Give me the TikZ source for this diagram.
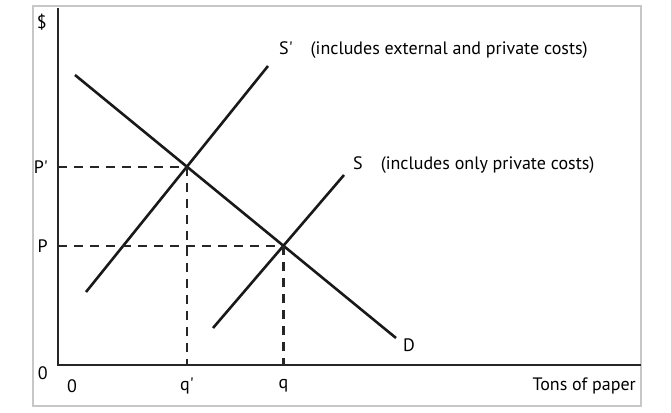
\documentclass[tikz,border=0pt]{standalone}
\usepackage{fontspec}
\setmainfont{PT Sans}
\usetikzlibrary{calc}
\tikzset{
  frame/.style={draw=black!22, line width=1.5pt},
  axis line/.style={draw=black!85, line width=1.3pt},
  curve/.style={draw=black!90, line width=2.6pt},
  guide/.style={draw=black!85, line width=2.3pt, dash pattern=on 9pt off 7pt},
  tick label/.style={font=\fontsize{18}{21}\selectfont, inner sep=1pt},
  curve label/.style={font=\fontsize{18}{21}\selectfont, anchor=west,
    inner sep=1pt}
}
\newcommand{\prm}{\textquotesingle}

\begin{document}
\begin{tikzpicture}[x=1pt, y=-1pt]
  \useasboundingbox (0,0) rectangle (671,412);
  \draw[frame] (33,6) rectangle (641,406);
  % axes
  \coordinate (origin) at (58,365);
  \coordinate (ytop) at (58,8);
  \coordinate (xend) at (641,365);
  \draw[axis line] (ytop) -- (origin) -- (xend);
  % demand and supply curves
  \coordinate (D1) at (75,75);
  \coordinate (D2) at (396,338);
  \coordinate (Sp1) at (86,292);
  \coordinate (Sp2) at (268,66);
  \coordinate (S1) at (213,328);
  \coordinate (S2) at (344,175);
  \draw[curve] (D1) -- (D2);
  \draw[curve] (Sp1) -- (Sp2);
  \draw[curve] (S1) -- (S2);
  \coordinate (Ep) at (intersection of D1--D2 and Sp1--Sp2);
  \coordinate (E) at (intersection of D1--D2 and S1--S2);
  % guides
  \draw[guide] (Ep -| origin) -- (Ep);
  \draw[guide] (Ep) -- (Ep |- origin);
  \draw[guide] (E -| origin) -- (E);
  \draw[guide] (E) -- (E |- origin);
  % labels
  \node[tick label, anchor=east] (dollar) at (48,22) {\$};
  \node[tick label, anchor=east] (Pp) at ([xshift=-9pt]Ep -| origin) {P\prm};
  \node[tick label, anchor=east] (P) at ([xshift=-9pt]E -| origin) {P};
  \node[tick label, anchor=east] (zeroy) at ([xshift=-9pt,yshift=-8pt]origin) {0};
  \node[tick label] (zerox) at (72,386) {0};
  \node[tick label] (qp) at ([yshift=-21pt]Ep |- origin) {q\prm};
  \node[tick label] (q) at ([yshift=-21pt]E |- origin) {q};
  \node[tick label, anchor=east] (xlab) at (637,386) {Tons of paper};
  \node[curve label] (Splab) at (278,50) {S\prm\quad(includes external and private costs)};
  \node[curve label] (Slab) at (352,165) {S\quad(includes only private costs)};
  \node[curve label] (Dlab) at (402,345) {D};
\end{tikzpicture}
\end{document}
